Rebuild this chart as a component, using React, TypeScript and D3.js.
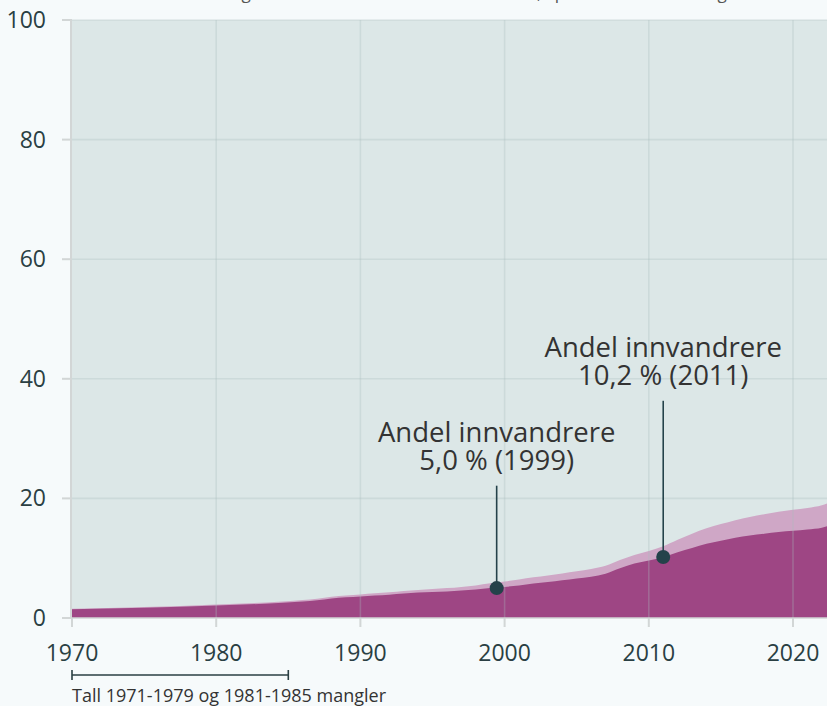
import { useMemo } from "react";
import * as d3 from "d3";

// andel av befolkningen, prosent
const years = [
  1970, 1980, 1986, 1987, 1988, 1989, 1990, 1991, 1992, 1993, 1994, 1995, 1996,
  1997, 1998, 1999, 2000, 2001, 2002, 2003, 2004, 2005, 2006, 2007, 2008, 2009,
  2010, 2011, 2012, 2013, 2014, 2015, 2016, 2017, 2018, 2019, 2020, 2021, 2022, 2023,
];
const innvandrere = [
  1.45, 2.1, 2.75, 2.95, 3.25, 3.45, 3.6, 3.75, 3.9, 4.1, 4.25, 4.35, 4.45,
  4.6, 4.75, 5.0, 5.2, 5.45, 5.75, 6.0, 6.3, 6.6, 6.9, 7.4, 8.3, 9.1,
  9.6, 10.2, 11.0, 11.7, 12.4, 12.9, 13.4, 13.8, 14.1, 14.4, 14.6, 14.8, 15.1, 15.9,
];
const norskfodte = [
  0.1, 0.15, 0.25, 0.28, 0.3, 0.32, 0.35, 0.37, 0.4, 0.42, 0.45, 0.5, 0.55,
  0.6, 0.7, 0.8, 0.9, 1.0, 1.05, 1.1, 1.15, 1.2, 1.3, 1.35, 1.4, 1.45,
  1.6, 1.8, 2.1, 2.4, 2.6, 2.8, 2.95, 3.1, 3.25, 3.35, 3.5, 3.6, 3.75, 3.85,
];
const yTicks = [0, 20, 40, 60, 80, 100];
const xTicks = [1970, 1980, 1990, 2000, 2010, 2020];

const noteLabel = "Tall 1971-1979 og 1981-1985 mangler";
const missingSpan = [1970, 1985];
const subtitle = "Innvandrere og norskfødte med innvandrerforeldre, i prosent av befolkningen";

const annotationTitles = ["Andel innvandrere", "Andel innvandrere"];
const annotationTexts = ["5,0 % (1999)", "10,2 % (2011)"];
const annotationYears = [1999.45, 2011];
const annotationValues = [5.0, 10.2];
const annotationLabelAt = [24.8, 39]; // label baseline, in axis units

const W = 827;
const H = 706;
const left = 72;
const top = 20;
const bottom = 618;

const font = "'Open Sans', 'DejaVu Sans', sans-serif";

export default function App() {
  const data = useMemo(
    () => years.map((y, i) => ({ year: y, a: innvandrere[i], b: norskfodte[i] })),
    []
  );

  const x = d3.scaleLinear().domain([1970, 2023]).range([left, left + 53 * 14.42]);
  const y = d3.scaleLinear().domain([0, 100]).range([bottom, top]);

  const totalArea = d3
    .area<any>()
    .x((d) => x(d.year))
    .y0(y(0))
    .y1((d) => y(d.a + d.b))
    .curve(d3.curveMonotoneX);
  const darkArea = d3
    .area<any>()
    .x((d) => x(d.year))
    .y0(y(0))
    .y1((d) => y(d.a))
    .curve(d3.curveMonotoneX);

  return (
    <svg
      width={W}
      height={H}
      style={{ position: "absolute", left: 0, top: 0, background: "#f6fafb" }}
    >
      <text x={438} y={-1} textAnchor="middle" fontFamily={font} fontSize={17} fill="#555">
        {subtitle}
      </text>

      <rect x={left} y={top} width={W - left} height={bottom - top} fill="#dce7e7" />

      <path d={totalArea(data) || ""} fill="#cfa7c6" />
      <path d={darkArea(data) || ""} fill="#9e4684" />

      {/* grid */}
      {yTicks.map((t) => (
        <g key={"y" + t}>
          {t > 0 && (
            <line x1={left} x2={W} y1={y(t)} y2={y(t)} stroke="#a9bcbc" strokeOpacity={0.3} strokeWidth={1.6} />
          )}
          <line x1={62} x2={left} y1={y(t)} y2={y(t)} stroke="#d2d6d6" strokeWidth={2} />
          <text x={46} y={y(t)} dy="0.35em" textAnchor="end" fontFamily={font} fontSize={23} fill="#2a3f43">
            {t}
          </text>
        </g>
      ))}
      {xTicks.map((t) => (
        <g key={"x" + t}>
          {t > 1970 && (
            <line x1={x(t)} x2={x(t)} y1={top} y2={bottom} stroke="#a9bcbc" strokeOpacity={0.3} strokeWidth={1.6} />
          )}
          <line x1={x(t)} x2={x(t)} y1={bottom} y2={627} stroke="#d2d6d6" strokeWidth={2} />
          <text x={x(t)} y={661} textAnchor="middle" fontFamily={font} fontSize={23} fill="#2a3f43">
            {t}
          </text>
        </g>
      ))}
      <line x1={left - 1} x2={left - 1} y1={top} y2={bottom} stroke="#d2d6d6" strokeWidth={2} />
      <line x1={left} x2={W} y1={bottom} y2={bottom} stroke="#d2d6d6" strokeWidth={1.5} />

      {/* annotations */}
      {annotationYears.map((yr, i) => {
        const cx = x(yr);
        const cy = y(annotationValues[i]);
        const ly = y(annotationLabelAt[i]);
        return (
          <g key={"a" + i}>
            <line x1={cx} x2={cx} y1={ly + 16} y2={cy} stroke="#24424a" strokeWidth={1.6} />
            <circle cx={cx} cy={cy} r={7} fill="#24424a" />
            <text x={cx} y={ly - 28} textAnchor="middle" fontFamily={font} fontSize={27.5} fill="#333">
              {annotationTitles[i]}
            </text>
            <text x={cx} y={ly} textAnchor="middle" fontFamily={font} fontSize={27.5} fill="#333">
              {annotationTexts[i]}
            </text>
          </g>
        );
      })}

      {/* missing data note */}
      <g stroke="#2a3f43" strokeWidth={1.6}>
        <line x1={x(missingSpan[0])} x2={x(missingSpan[1])} y1={675} y2={675} />
        <line x1={x(missingSpan[0])} x2={x(missingSpan[0])} y1={670} y2={680} />
        <line x1={x(missingSpan[1])} x2={x(missingSpan[1])} y1={670} y2={680} />
      </g>
      <text x={left} y={702} fontFamily={font} fontSize={18} fill="#333">
        {noteLabel}
      </text>
    </svg>
  );
}
